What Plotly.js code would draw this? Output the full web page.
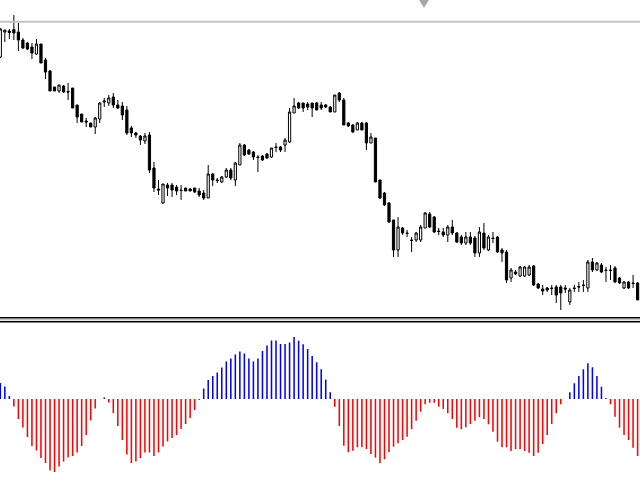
<!DOCTYPE html>
<html>
<head>
<meta charset="utf-8">
<script src="https://cdn.plot.ly/plotly-3.0.1.min.js"></script>
<style>
  html, body { margin: 0; padding: 0; background: #fff; }
  #chart { width: 640px; height: 480px; }
</style>
</head>
<body>
<div id="chart"></div>
<script>
// bar index (one per candle / histogram bar)
const bars = [...Array(142).keys()];

// OHLC prices, in points
const open = [
  343, 368, 369, 370.5, 368, 360, 357, 353, 346, 356,
  340, 329, 313, 309, 314, 308.5, 312, 295, 286, 279,
  277, 273, 281, 298, 297, 303, 295, 294, 290, 272,
  267, 264, 259, 265, 232, 211, 197, 215, 215, 213,
  210, 212, 211, 212, 209, 207, 202, 226, 220, 218,
  223, 230, 220, 235, 255, 250, 248, 243, 244, 246,
  243, 253, 253, 255, 258, 287, 297, 297, 296, 297,
  297, 295, 295, 293, 288, 307, 300, 277, 275, 270,
  277, 277, 257, 262, 220, 207, 197, 180, 150, 172,
  167, 160, 160, 160, 172, 186, 183, 169, 168, 165,
  173, 167, 163, 157, 163, 162, 147, 167, 150, 162,
  163, 150, 148, 122, 128, 124, 124, 125, 134, 116,
  111, 112, 112, 113, 113, 112, 98, 112, 113.5, 115,
  112, 138, 130, 135, 130, 130, 132, 122, 112, 118,
  117, 117
];
const high = [
  372, 370, 371, 385, 377, 362, 358, 357, 361, 356,
  342, 330, 313, 315, 315, 317, 312, 295, 286, 282,
  277, 283, 298, 302, 305, 307, 300, 298, 294, 274,
  268, 265, 267, 268, 238, 220, 216, 217, 217, 215,
  215, 212, 212, 212, 212, 210, 235, 227, 222, 224,
  232, 232, 238, 257, 256, 251, 249, 245, 245, 247,
  252, 257, 254, 262, 292, 302, 298, 297, 298, 297,
  298, 298, 296, 294, 305, 308, 302, 278, 276, 278,
  278, 278, 267, 262, 220, 208, 198, 180, 183, 173,
  170, 163, 168, 175, 188, 188, 184, 172, 172, 175,
  180, 168, 165, 168, 168, 164, 173, 177, 165, 168,
  164, 152, 150, 132, 130, 134, 134, 135, 135, 117,
  115, 113, 115, 115, 115, 115, 112, 115, 118, 120,
  140, 142, 138, 137, 133, 135, 134, 123, 119, 119,
  125, 118
];
const low = [
  342, 358, 361, 360, 349, 351, 350, 341, 345, 337,
  321, 309, 309, 307, 307, 300, 292, 277, 278, 273,
  273, 266, 277, 293, 294, 292, 291, 280, 265, 263,
  262, 255, 256, 227, 208, 205, 196, 204, 203, 205,
  200, 209, 209, 207, 203, 200, 202, 214, 217, 217,
  222, 220, 214, 235, 244, 245, 240, 228, 239, 241,
  242, 248, 248, 248, 257, 287, 291, 288, 290, 283,
  290, 290, 292, 288, 288, 298, 275, 273, 267, 270,
  270, 250, 257, 218, 201, 194, 177, 143, 143, 165,
  163, 148, 158, 158, 172, 172, 167, 165, 163, 158,
  165, 157, 155, 155, 155, 143, 143, 150, 149, 157,
  147, 138, 117, 118, 125, 123, 123, 124, 114, 111,
  105, 108, 105, 97, 90, 107, 95, 108, 108, 108,
  108, 128, 129, 127, 118, 120, 117, 116, 111, 111,
  112, 100
];
const close = [
  371, 370, 367.5, 367, 360, 352, 351, 347, 356, 337,
  328, 309, 309, 315, 308, 308, 292, 283, 278, 278,
  273, 282, 297, 299, 302, 295, 292, 285, 267, 267,
  265, 260, 264, 230, 212, 210, 216, 212, 210, 209,
  209.5, 209, 209, 208, 205, 202, 226, 220, 219.5, 223,
  230, 222, 237, 255, 245, 246, 243, 242.5, 240, 242,
  252, 252.5, 250, 260, 288, 294, 292, 292, 293, 292,
  290, 292, 293, 288, 305, 300, 275, 274, 268, 277,
  270, 257, 263, 218, 202, 195, 178, 150, 173, 167,
  166.5, 159.5, 167, 173, 187, 173, 168, 168.5, 165, 173,
  167, 158, 157, 163, 157, 147, 168, 152, 163, 161.5,
  148, 147, 120, 130, 126, 133, 133, 133, 115, 112,
  109, 110, 111.5, 105, 107, 111, 110, 111.5, 113, 114.5,
  138, 130, 137, 128, 129.5, 129.5, 118, 117, 118, 112,
  116.5, 100
];

// oscillator histogram values
const osc = [
  16, 12.5, 3, -7.5, -20, -28.5, -38, -47, -51.5, -59,
  -64, -71.5, -73, -67.5, -62.5, -58.5, -57, -53.5, -47, -36,
  -21.5, -9.5, 0, 1.5, -3.5, -14, -27, -41, -55.5, -64,
  -62.5, -59, -53.5, -53.5, -57, -53.5, -47.5, -42.5, -39, -36,
  -30, -25, -19, -11, -1, 10.5, 19, 23, 26.5, 31.5,
  37.5, 40.5, 44.5, 47.5, 45.5, 40.5, 37.5, 40.5, 48, 53.5,
  58.5, 58.5, 55, 55, 56.5, 62, 58.3, 54.7, 50, 43,
  36.7, 29.7, 19.5, 6.8, -7.7, -27, -46.7, -53.3, -51.7, -48.3,
  -48.3, -50, -55, -58.7, -64.3, -60.3, -53.3, -47.7, -44.3, -41,
  -37.7, -30, -21.7, -12.7, -5.3, -3.7, -3.7, -7.7, -10, -14.3,
  -20, -28.7, -30.3, -28.3, -25, -21.7, -18.3, -20, -25.3, -32.7,
  -42.7, -48.3, -48.3, -52, -50, -50.3, -52, -53.7, -57, -53.7,
  -45, -36, -25, -14.3, -5.3, 0, 6.7, 15.7, 23, 29.7,
  35.7, 31.7, 23, 12.3, 1, -5.3, -17.7, -28.7, -36, -41,
  -48.7, -57
];

// horizontal level drawn on the price pane
const levelLine = 378.3;

var candles = {
  type: 'candlestick',
  x: bars, open: open, high: high, low: low, close: close,
  xaxis: 'x', yaxis: 'y',
  increasing: {line: {color: '#000000', width: 1}, fillcolor: '#ffffff'},
  decreasing: {line: {color: '#000000', width: 1}, fillcolor: '#000000'},
  hoverinfo: 'skip'
};

var hist = {
  type: 'bar',
  x: bars, y: osc,
  xaxis: 'x2', yaxis: 'y2',
  width: 0.34,
  marker: {color: osc.map(v => v >= 0 ? '#0000ff' : '#ff0000'), line: {width: 0}},
  hoverinfo: 'skip'
};

var xr = [-0.066, 141.53];
var hidden = {showgrid: false, zeroline: false, showticklabels: false, showline: false, ticks: ''};

var layout = {
  width: 640, height: 480,
  margin: {l: 0, r: 0, t: 0, b: 0, pad: 0},
  paper_bgcolor: '#ffffff', plot_bgcolor: '#ffffff',
  showlegend: false,
  xaxis: Object.assign({range: xr, anchor: 'y', rangeslider: {visible: false}}, hidden),
  xaxis2: Object.assign({range: xr, anchor: 'y2'}, hidden),
  yaxis: Object.assign({domain: [0.3396, 1], range: [83, 400]}, hidden),
  yaxis2: Object.assign({domain: [0, 0.3292], range: [-81, 77]}, hidden),
  shapes: [
    {type: 'line', xref: 'paper', yref: 'y', x0: 0, x1: 1, y0: levelLine, y1: levelLine,
     line: {color: '#c4c4c4', width: 2}},
    {type: 'line', xref: 'paper', yref: 'paper', x0: 0, x1: 1, y0: 1 - 317.8/480, y1: 1 - 317.8/480,
     line: {color: '#000000', width: 1.6}},
    {type: 'line', xref: 'paper', yref: 'paper', x0: 0, x1: 1, y0: 1 - 319.8/480, y1: 1 - 319.8/480,
     line: {color: '#b0b0b0', width: 1}},
    {type: 'line', xref: 'paper', yref: 'paper', x0: 0, x1: 1, y0: 1 - 321.8/480, y1: 1 - 321.8/480,
     line: {color: '#000000', width: 1.6}},
    {type: 'path', xref: 'paper', yref: 'paper',
     path: 'M ' + (419/640) + ' 1 L ' + (429/640) + ' 1 L ' + (424/640) + ' ' + (1 - 8/480) + ' Z',
     fillcolor: '#a8a8a8', line: {width: 0}}
  ]
};

Plotly.newPlot('chart', [candles, hist], layout, {staticPlot: true, displayModeBar: false});
</script>
</body>
</html>
